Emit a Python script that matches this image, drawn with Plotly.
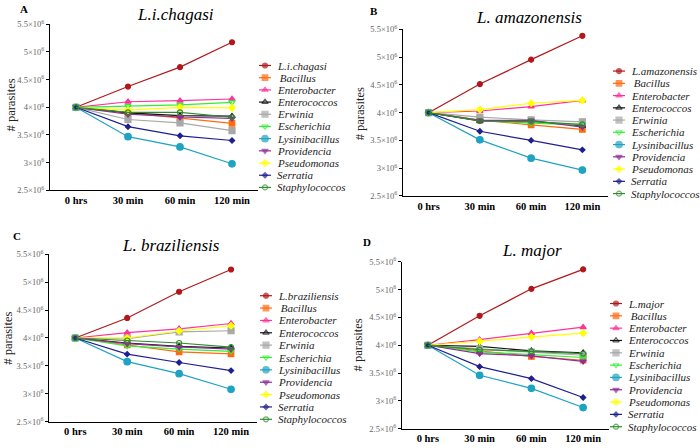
import plotly.graph_objects as go

W, H = 700, 448
FONT = "Liberation Serif"

times = ["0 hrs", "30 min", "60 min", "120 min"]
ytick_vals = [2.5e6, 3e6, 3.5e6, 4e6, 4.5e6, 5e6, 5.5e6]
ytick_text = ["2.5×10<sup>6</sup>", "3×10<sup>6</sup>", "3.5×10<sup>6</sup>", "4×10<sup>6</sup>",
              "4.5×10<sup>6</sup>", "5×10<sup>6</sup>", "5.5×10<sup>6</sup>"]

panel_titles = ["L.i.chagasi", "L. amazonensis", "L. braziliensis", "L. major"]
panel_letters = ["A", "B", "C", "D"]
leish_names = ["L.i.chagasi", "L.amazonensis", "L.braziliensis", "L.major"]
bacteria = [" Bacillus", "Enterobacter", "Enterococcos", "Erwinia", "Escherichia",
            "Lysinibacillus", "Providencia", "Pseudomonas", "Serratia", "Staphylococcos"]

# values in millions of parasites
chagasi_leish = [4.0, 4.375, 4.725, 5.175]
chagasi_bacillus = [4.0, 3.90, 3.81, 3.71]
chagasi_enterobacter = [4.0, 4.10, 4.12, 4.15]
chagasi_enterococcos = [4.0, 3.90, 3.85, 3.84]
chagasi_erwinia = [4.0, 3.78, 3.72, 3.58]
chagasi_escherichia = [4.0, 4.025, 4.045, 4.09]
chagasi_lysinibacillus = [4.0, 3.47, 3.285, 2.98]
chagasi_providencia = [4.0, 3.875, 3.825, 3.80]
chagasi_pseudomonas = [4.0, 3.95, 4.0, 3.99]
chagasi_serratia = [4.0, 3.65, 3.485, 3.40]
chagasi_staphylococcos = [4.0, 3.91, 3.91, 3.82]

amaz_leish = [4.0, 4.515, 4.955, 5.385]
amaz_bacillus = [4.0, 3.865, 3.78, 3.70]
amaz_enterobacter = [4.0, 4.03, 4.11, 4.22]
amaz_enterococcos = [4.0, 3.85, 3.85, 3.76]
amaz_erwinia = [4.0, 3.92, 3.87, 3.835]
amaz_escherichia = [4.0, 3.86, 3.81, 3.78]
amaz_lysinibacillus = [4.0, 3.51, 3.18, 2.965]
amaz_providencia = [4.0, 3.86, 3.86, 3.74]
amaz_pseudomonas = [4.0, 4.055, 4.17, 4.22]
amaz_serratia = [4.0, 3.665, 3.50, 3.33]
amaz_staphylococcos = [4.0, 3.85, 3.84, 3.79]

braz_leish = [4.0, 4.36, 4.83, 5.23]
braz_bacillus = [4.0, 3.875, 3.75, 3.715]
braz_enterobacter = [4.0, 4.095, 4.165, 4.26]
braz_enterococcos = [4.0, 3.91, 3.85, 3.82]
braz_erwinia = [4.0, 3.99, 4.11, 4.13]
braz_escherichia = [4.0, 3.86, 3.80, 3.76]
braz_lysinibacillus = [4.0, 3.575, 3.36, 3.08]
braz_providencia = [4.0, 3.90, 3.84, 3.80]
braz_pseudomonas = [4.0, 4.0, 4.125, 4.22]
braz_serratia = [4.0, 3.71, 3.56, 3.415]
braz_staphylococcos = [4.0, 3.955, 3.91, 3.835]

major_leish = [4.0, 4.53, 5.015, 5.365]
major_bacillus = [4.0, 3.895, 3.80, 3.73]
major_enterobacter = [4.0, 4.10, 4.215, 4.325]
major_enterococcos = [4.0, 3.98, 3.90, 3.865]
major_erwinia = [4.0, 3.935, 3.875, 3.82]
major_escherichia = [4.0, 3.88, 3.83, 3.78]
major_lysinibacillus = [4.0, 3.46, 3.225, 2.88]
major_providencia = [4.0, 3.85, 3.81, 3.71]
major_pseudomonas = [4.0, 4.07, 4.15, 4.22]
major_serratia = [4.0, 3.615, 3.40, 3.06]
major_staphylococcos = [4.0, 3.92, 3.89, 3.85]

panels_data = [
    [chagasi_leish, chagasi_bacillus, chagasi_enterobacter, chagasi_enterococcos, chagasi_erwinia,
     chagasi_escherichia, chagasi_lysinibacillus, chagasi_providencia, chagasi_pseudomonas,
     chagasi_serratia, chagasi_staphylococcos],
    [amaz_leish, amaz_bacillus, amaz_enterobacter, amaz_enterococcos, amaz_erwinia,
     amaz_escherichia, amaz_lysinibacillus, amaz_providencia, amaz_pseudomonas,
     amaz_serratia, amaz_staphylococcos],
    [braz_leish, braz_bacillus, braz_enterobacter, braz_enterococcos, braz_erwinia,
     braz_escherichia, braz_lysinibacillus, braz_providencia, braz_pseudomonas,
     braz_serratia, braz_staphylococcos],
    [major_leish, major_bacillus, major_enterobacter, major_enterococcos, major_erwinia,
     major_escherichia, major_lysinibacillus, major_providencia, major_pseudomonas,
     major_serratia, major_staphylococcos],
]

# styles: (color, symbol, size)
styles = [
    ("#B2181B", "circle", 5),
    ("#FF6A10", "square", 5.5),
    ("#FF3399", "triangle-up", 5.5),
    ("#111111", "triangle-up-open", 5.5),
    ("#A8A8A8", "square", 6),
    ("#33EE33", "triangle-down-open", 5.5),
    ("#1FA3C2", "circle", 6.5),
    ("#8E2D9A", "triangle-down", 5.5),
    ("#FFFF00", "diamond", 5),
    ("#1F1F8F", "diamond", 4),
    ("#2E8B2E", "circle-open", 5),
]

# panel geometry in pixels: x_left, x_right, y_bottom, y_top
geoms = [(50, 258, 189, 18.7), (403, 608, 194.7, 24), (49.3, 257, 426, 254.7), (402, 609, 433.3, 262.3)]
# legend geometry: sample x0, x1, text x, first y, dy
leg_geoms = [(259, 271, 276, 61, 12.5), (613, 625, 630, 66.7, 12.56),
             (260, 272, 277, 297, 12.67), (610, 622, 627, 305, 12.63)]
title_pos = [(175, 9), (529, 12), (171, 246), (532, 251)]
letter_pos = [(24, 3), (374, 5), (17, 236), (367, 242)]
ytitle_pos = [(11, 102), (360, 110), (8, 341), (358, 348)]

fig = go.Figure()
layout = dict(width=W, height=H, margin=dict(l=0, r=0, t=0, b=0), autosize=False,
              paper_bgcolor="white", plot_bgcolor="rgba(0,0,0,0)", showlegend=False,
              font=dict(family=FONT))
annotations = []

for p in range(4):
    k = p + 1
    sfx = "" if k == 1 else str(k)
    xl, xr, yb, yt = geoms[p]
    layout["xaxis" + sfx] = dict(domain=[xl / W, xr / W], anchor="y" + sfx,
                      type="category", range=[-0.5, 3.5], autorange=False,
                      showline=True, linecolor="black",
                      linewidth=1.2, ticks="", showgrid=False, zeroline=False,
                      tickfont=dict(family=FONT, size=10.5, color="black", weight="bold"))
    layout["yaxis" + sfx] = dict(domain=[1 - yb / H, 1 - yt / H], anchor="x" + sfx,
                      range=[2.5e6, 5.5e6], autorange=False,
                      showline=True, linecolor="black", linewidth=1.2,
                      ticks="outside", ticklen=3, tickcolor="black", showgrid=False,
                      zeroline=False, tickvals=ytick_vals, ticktext=ytick_text,
                      tickfont=dict(family=FONT, size=8.5, color="#666666"))
    for i, vals in enumerate(panels_data[p]):
        c, sym, sz = styles[i]
        fig.add_trace(go.Scatter(
            x=times, y=[v * 1e6 for v in vals], mode="lines+markers",
            xaxis="x" + sfx, yaxis="y" + sfx,
            line=dict(color=c, width=1.2),
            marker=dict(color=c, symbol=sym, size=sz, line=dict(color=c, width=1.2)),
            showlegend=False, hoverinfo="skip"))

    # legend (manual, compact spacing)
    x0, x1, tx, y0, dy = leg_geoms[p]
    names = [leish_names[p]] + bacteria
    for i, nm in enumerate(names):
        c, sym, sz = styles[i]
        yy = y0 + i * dy
        fig.add_trace(go.Scatter(
            x=[x0, (x0 + x1) / 2, x1], y=[yy, yy, yy], mode="lines+markers",
            xaxis="x9", yaxis="y9",
            line=dict(color=c, width=1.2),
            marker=dict(color=c, symbol=sym, size=[0, sz, 0], line=dict(color=c, width=1.2)),
            showlegend=False, hoverinfo="skip"))
        annotations.append(dict(x=tx / W, y=1 - yy / H, xref="paper", yref="paper",
                                text=f"<i>{nm}</i>", showarrow=False, xanchor="left",
                                yanchor="middle", borderpad=0,
                                font=dict(family=FONT, size=11, color="#222222")))

    tx_, ty_ = title_pos[p]
    annotations.append(dict(x=tx_ / W, y=1 - ty_ / H, xref="paper", yref="paper",
                            text=f"<i>{panel_titles[p]}</i>", showarrow=False,
                            xanchor="center", yanchor="middle",
                            font=dict(family=FONT, size=17, color="black")))
    lx, ly = letter_pos[p]
    annotations.append(dict(x=lx / W, y=1 - ly / H, xref="paper", yref="paper",
                            text=f"<b>{panel_letters[p]}</b>", showarrow=False,
                            xanchor="center", yanchor="middle",
                            font=dict(family=FONT, size=11, color="black")))
    yx, yy_ = ytitle_pos[p]
    annotations.append(dict(x=yx / W, y=1 - yy_ / H, xref="paper", yref="paper",
                            text="# parasites", showarrow=False, textangle=-90,
                            xanchor="center", yanchor="middle",
                            font=dict(family=FONT, size=12.5, color="#222222")))

layout["xaxis9"] = dict(domain=[0, 1], range=[0, W], visible=False, anchor="y9", fixedrange=True)
layout["yaxis9"] = dict(domain=[0, 1], range=[H, 0], visible=False, anchor="x9", fixedrange=True)
layout["annotations"] = annotations
fig.update_layout(**layout)
fig.write_html("out.html", config={"displayModeBar": False},
               post_script="document.body.style.margin='0';document.body.style.overflow='hidden';")
